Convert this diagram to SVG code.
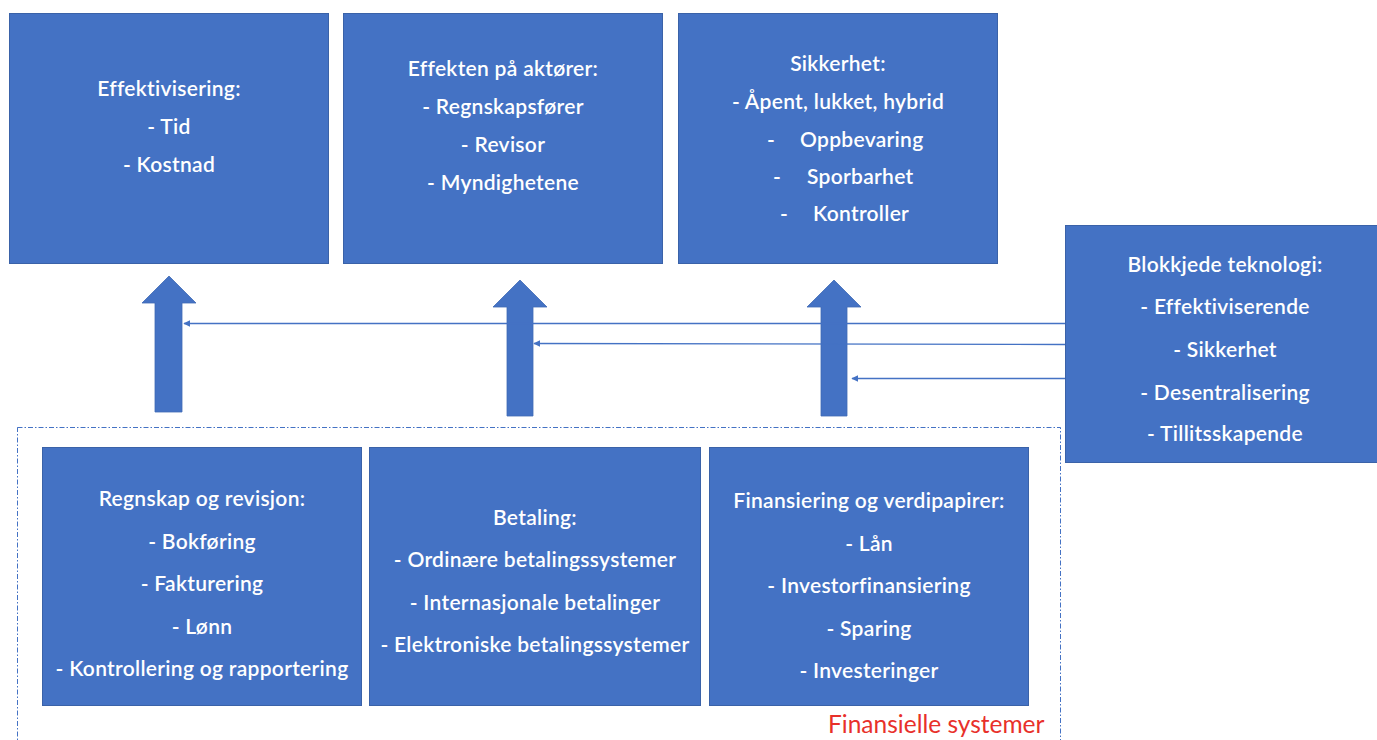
<svg xmlns="http://www.w3.org/2000/svg" width="1377" height="740" viewBox="0 0 1377 740">
  <defs>
    <style>
      .box { fill: #4472C4; stroke: #3A62A8; stroke-width: 1; }
      .blk { fill: #4472C4; stroke: #3F69B5; stroke-width: 0.8; }
      .t { font-family: Lato, "Liberation Sans", sans-serif; font-size: 21px; font-weight: 600; letter-spacing: 0.3px; fill: #FFFFFF; text-anchor: middle; }
      .tl { font-family: Lato, "Liberation Sans", sans-serif; font-size: 21px; font-weight: 600; letter-spacing: 0.3px; fill: #FFFFFF; }
      .link { stroke: #4472C4; stroke-width: 1.3; fill: none; marker-end: url(#tip); }
      .frame { fill: none; stroke: #4472C4; stroke-width: 1; stroke-dasharray: 5 2 1.5 2; }
      .cap { font-family: Lato, "Liberation Sans", sans-serif; font-size: 24.5px; fill: #E8302A; }
    </style>
    <marker id="tip" viewBox="0 0 10 10" refX="9" refY="5" markerWidth="7" markerHeight="7" markerUnits="userSpaceOnUse" orient="auto">
      <path d="M0,0 L10,5 L0,10 z" fill="#4472C4"/>
    </marker>
  </defs>

  <rect x="0" y="0" width="1377" height="740" fill="#FFFFFF"/>

  <!-- dash-dot frame around the financial systems -->
  <g id="financial-systems-frame">
    <rect class="frame" x="17.5" y="427.5" width="1043" height="340"/>
    <text class="cap" x="828" y="733">Finansielle systemer</text>
  </g>

  <!-- top row: effects -->
  <g id="effektivisering">
    <rect class="box" x="9.5" y="13.5" width="319" height="250"/>
    <text class="t" x="169" y="96">Effektivisering:</text>
    <text class="t" x="169" y="134">- Tid</text>
    <text class="t" x="169" y="172">- Kostnad</text>
  </g>

  <g id="effekten-pa-aktorer">
    <rect class="box" x="343.5" y="13.5" width="319" height="250"/>
    <text class="t" x="503" y="76">Effekten på aktører:</text>
    <text class="t" x="503" y="114">- Regnskapsfører</text>
    <text class="t" x="503" y="152">- Revisor</text>
    <text class="t" x="503" y="190">- Myndighetene</text>
  </g>

  <g id="sikkerhet">
    <rect class="box" x="678.5" y="13.5" width="319" height="250"/>
    <text class="t" x="838" y="71">Sikkerhet:</text>
    <text class="t" x="838" y="109">- Åpent, lukket, hybrid</text>
    <text class="tl" x="767" y="147">-</text>
    <text class="tl" x="800" y="147">Oppbevaring</text>
    <text class="tl" x="773" y="184">-</text>
    <text class="tl" x="807" y="184">Sporbarhet</text>
    <text class="tl" x="780" y="221">-</text>
    <text class="tl" x="813" y="221">Kontroller</text>
  </g>

  <!-- right: blockchain technology -->
  <g id="blokkjede-teknologi">
    <rect class="box" x="1065.5" y="225.5" width="319" height="237"/>
    <text class="t" x="1225" y="272">Blokkjede teknologi:</text>
    <text class="t" x="1225" y="314">- Effektiviserende</text>
    <text class="t" x="1225" y="357">- Sikkerhet</text>
    <text class="t" x="1225" y="400">- Desentralisering</text>
    <text class="t" x="1225" y="441">- Tillitsskapende</text>
  </g>

  <!-- bottom row: financial systems -->
  <g id="regnskap-og-revisjon">
    <rect class="box" x="42.5" y="447.5" width="319" height="258"/>
    <text class="t" x="202" y="506">Regnskap og revisjon:</text>
    <text class="t" x="202" y="549">- Bokføring</text>
    <text class="t" x="202" y="591">- Fakturering</text>
    <text class="t" x="202" y="634">- Lønn</text>
    <text class="t" x="202" y="676">- Kontrollering og rapportering</text>
  </g>

  <g id="betaling">
    <rect class="box" x="369.5" y="447.5" width="331" height="258"/>
    <text class="t" x="535" y="525">Betaling:</text>
    <text class="t" x="535" y="567">- Ordinære betalingssystemer</text>
    <text class="t" x="535" y="610">- Internasjonale betalinger</text>
    <text class="t" x="535" y="652">- Elektroniske betalingssystemer</text>
  </g>

  <g id="finansiering-og-verdipapirer">
    <rect class="box" x="709.5" y="447.5" width="319" height="258"/>
    <text class="t" x="869" y="508">Finansiering og verdipapirer:</text>
    <text class="t" x="869" y="551">- Lån</text>
    <text class="t" x="869" y="593">- Investorfinansiering</text>
    <text class="t" x="869" y="636">- Sparing</text>
    <text class="t" x="869" y="678">- Investeringer</text>
  </g>

  <!-- block arrows from the financial systems up to the effects -->
  <g id="block-arrows">
    <path class="blk" d="M169,276 L196,303 L182,303 L182,412 L155,412 L155,303 L142,303 Z"/>
    <path class="blk" d="M520,280 L547,307 L533,307 L533,416 L507,416 L507,307 L493,307 Z"/>
    <path class="blk" d="M834,280 L861,307 L847,307 L847,416 L821,416 L821,307 L807,307 Z"/>
  </g>

  <!-- thin connectors from the blockchain box -->
  <g id="connectors">
    <line class="link" x1="1065" y1="323.5" x2="184" y2="323.5"/>
    <line class="link" x1="1065" y1="344.5" x2="534" y2="343.5"/>
    <line class="link" x1="1065" y1="378.5" x2="852" y2="378.5"/>
  </g>
</svg>
